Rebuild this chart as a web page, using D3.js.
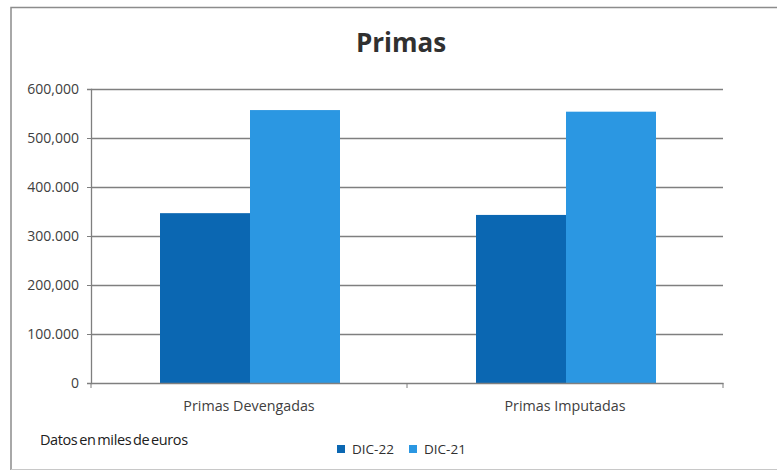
<!DOCTYPE html>
<html><head><meta charset="utf-8">
<script src="https://cdn.jsdelivr.net/npm/d3@7"></script>
<style>
html,body{margin:0;padding:0;background:#fff;}
svg{display:block;font-family:"Open Sans","Noto Sans",sans-serif;}
</style></head>
<body><svg id="c" width="777" height="472"></svg>
<script>
const categories = ["Primas Devengadas", "Primas Imputadas"];
const seriesNames = ["DIC-22", "DIC-21"];
const dic22 = [346600, 343000];
const dic21 = [557000, 553700];
const tickValues = [0, 100000, 200000, 300000, 400000, 500000, 600000];
const tickLabels = ["0", "100.000", "200,000", "300.000", "400.000", "500,000", "600,000"];
const colors = ["#0b67b2", "#2b97e2"];

const svg = d3.select("#c");
const W = 777, H = 472;
const m = {left: 91, right: 54, top: 89, bottom: 89};
const x0 = d3.scaleBand().domain(categories).range([m.left, W - m.right]).padding(0);
const x1 = d3.scaleBand().domain(seriesNames).range([0, x0.bandwidth()]).paddingInner(0).paddingOuter(0.7556);
const y = d3.scaleLinear().domain([0, 600000]).range([H - m.bottom, m.top]);

// frame
svg.append("path").attr("d", `M11,470 L11,7.5 L777,7.5`).attr("fill","none").attr("stroke","#8c8c8c").attr("stroke-width",1.5);
svg.append("line").attr("x1",11).attr("x2",777).attr("y1",469.5).attr("y2",469.5).attr("stroke","#c8c8c8").attr("stroke-width",1);

// gridlines
svg.append("g").selectAll("line").data(tickValues.slice(1)).join("line")
  .attr("x1", m.left).attr("x2", W - m.right)
  .attr("y1", d => Math.round(y(d)) + 0.5).attr("y2", d => Math.round(y(d)) + 0.5)
  .attr("stroke", "#7f7f7f").attr("stroke-width", 1.3);

// bars
const data = categories.map((c, i) => ({cat: c, vals: [dic22[i], dic21[i]]}));
const grp = svg.append("g").selectAll("g").data(data).join("g")
  .attr("transform", d => `translate(${x0(d.cat)},0)`);
grp.selectAll("rect").data(d => d.vals.map((v, j) => ({s: seriesNames[j], v, j}))).join("rect")
  .attr("x", d => x1(d.s) + 1).attr("width", x1.bandwidth())
  .attr("y", d => y(d.v)).attr("height", d => y(0) - y(d.v))
  .attr("fill", d => colors[d.j]);

// y axis
const yAxis = d3.axisLeft(y).tickValues(tickValues).tickSize(4).tickPadding(8)
  .tickFormat((d, i) => tickLabels[i]);
const gy = svg.append("g").attr("transform", `translate(${m.left},0)`).call(yAxis);
gy.select(".domain").attr("stroke", "#7f7f7f").attr("stroke-width", 1.3);
gy.selectAll(".tick line").attr("stroke", "#7f7f7f");
gy.selectAll("text").attr("font-size", 14).attr("fill", "#404040").attr("font-family", "'Open Sans',sans-serif");

// x axis
const xAxis = d3.axisBottom(x0).tickSize(0).tickPadding(18);
const gx = svg.append("g").attr("transform", `translate(0,${y(0)})`).call(xAxis);
gx.select(".domain").attr("stroke", "#7f7f7f").attr("stroke-width", 1.3);
gx.selectAll("text").attr("font-size", 14.3).attr("fill", "#404040").attr("font-family", "'Open Sans',sans-serif");
// category boundary ticks
const bounds = [m.left, ...categories.map(c => x0(c) + x0.bandwidth())];
svg.append("g").selectAll("line").data(bounds).join("line")
  .attr("x1", d => d).attr("x2", d => d).attr("y1", y(0)).attr("y2", y(0) + 5)
  .attr("stroke", "#7f7f7f");

// title
svg.append("text").attr("x", 401).attr("y", 52).attr("text-anchor", "middle")
  .attr("font-size", 26).attr("font-weight", "bold").attr("fill", "#303030").text("Primas");

// note
svg.append("text").attr("x", 40).attr("y", 445).attr("font-size", 14.5).attr("fill", "#202020")
  .attr("letter-spacing", -0.4).attr("word-spacing", -1.5).text("Datos en miles de euros");

// legend
const leg = svg.append("g").selectAll("g").data(seriesNames).join("g")
  .attr("transform", (d, i) => `translate(${337 + i * 72},0)`);
leg.append("rect").attr("x", 0).attr("y", 445).attr("width", 8).attr("height", 8).attr("fill", (d, i) => colors[i]);
leg.append("text").attr("x", 15).attr("y", 454).attr("font-size", 13.5).attr("fill", "#303030").text(d => d);
</script></body></html>
